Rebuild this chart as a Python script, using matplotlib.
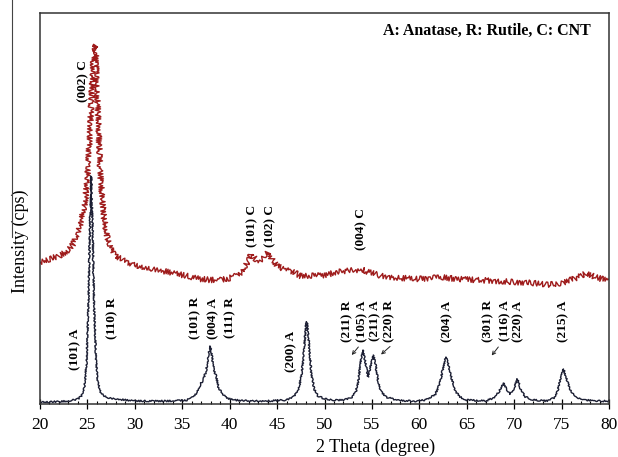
import matplotlib
matplotlib.use("Agg")
import matplotlib.pyplot as plt
from matplotlib.lines import Line2D
import numpy as np

plt.rcParams['font.family'] = ['Liberation Serif', 'DejaVu Serif']

# TiO2 pattern (black): 2 theta (deg), intensity (a.u.)
tio2_theta = [20.0, 21.0, 22.0, 23.0, 23.5, 24.0, 24.4, 24.7, 24.9, 25.1, 25.25, 25.4,
              25.55, 25.7, 25.9, 26.1, 26.4, 26.8, 27.3, 28.0, 29.0, 30.0, 32.0, 34.0,
              35.5, 36.2, 36.6, 37.0, 37.2, 37.5, 37.75, 37.95, 38.15, 38.4, 38.6, 38.8,
              39.2, 39.7, 40.5, 42.0, 44.0, 46.0, 46.8, 47.3, 47.6, 47.85, 48.05, 48.15,
              48.35, 48.6, 48.9, 49.3, 50.0, 51.0, 52.0, 52.8, 53.3, 53.6, 53.85, 54.05,
              54.3, 54.6, 54.9, 55.15, 55.4, 55.7, 56.0, 56.5, 57.5, 59.0, 60.0, 61.0,
              61.7, 62.2, 62.5, 62.8, 63.1, 63.4, 63.8, 64.3, 65.0, 67.0, 67.8, 68.4,
              68.85, 69.2, 69.6, 70.0, 70.35, 70.7, 71.2, 72.0, 73.5, 74.2, 74.6, 74.95,
              75.2, 75.5, 75.8, 76.2, 76.8, 77.5, 79.0, 80.0]
tio2_int = [2, 2, 2.5, 3, 4, 5, 8, 18, 40, 95, 170, 228,
            175, 100, 45, 22, 12, 8, 6, 5, 4, 3, 3, 3,
            4, 7, 12, 21, 24, 32, 48, 58, 46, 32, 27, 17,
            10, 6, 4, 3, 3, 4, 8, 16, 30, 55, 80, 82,
            62, 32, 15, 8, 5, 4, 4, 6, 12, 25, 45, 54,
            42, 27, 40, 49, 38, 20, 12, 7, 4, 3, 3, 5,
            10, 22, 36, 47, 38, 25, 13, 7, 4, 3, 6, 12,
            21, 15, 10, 16, 25, 14, 7, 4, 3, 6, 14, 28,
            35, 26, 17, 10, 6, 4, 3, 3]

# TiO2/CNT pattern (red), offset upward
cnt_theta = [20.0, 21.0, 22.0, 23.0, 23.5, 24.0, 24.4, 24.8, 25.1, 25.3, 25.5, 25.7,
             25.85, 26.0, 26.2, 26.4, 26.7, 27.0, 27.5, 28.0, 29.0, 30.0, 32.0, 34.0,
             35.0, 36.0, 37.0, 38.0, 39.0, 40.0, 41.0, 41.5, 41.9, 42.3, 42.7, 43.1,
             43.6, 44.1, 44.5, 45.0, 45.5, 46.5, 47.5, 48.5, 50.0, 51.0, 52.0, 53.0,
             54.0, 55.0, 56.0, 58.0, 60.0, 62.0, 64.0, 66.0, 68.0, 70.0, 72.0, 73.5,
             75.0, 76.5, 77.7, 78.5, 80.0]
cnt_int = [142, 145, 148, 154, 160, 171, 185, 205, 240, 280, 320, 355,
           359, 320, 270, 225, 190, 170, 155, 148, 143, 139, 135, 131,
           129, 127, 125, 124, 124, 126, 129, 133, 143, 150, 145, 143,
           147, 152, 144, 138, 136, 133, 128, 128, 129, 131, 133, 134,
           134, 131, 128, 126, 125, 127, 125, 124, 123, 122, 121, 119,
           121, 126, 131, 127, 123]

# peak labels: text, 2 theta, height of label centre
peak_labels = ["(002) C", "(101) C", "(102) C", "(004) C",
               "(101) A", "(110) R", "(101) R", "(004) A", "(111) R", "(200) A",
               "(211) R", "(105) A", "(211) A", "(220) R", "(204) A",
               "(301) R", "(116) A", "(220) A", "(215) A"]
peak_label_x = [24.53, 42.43, 44.33, 53.93,
                23.69, 27.67, 36.42, 38.28, 40.05, 46.54,
                52.45, 53.98, 55.34, 56.85, 62.9,
                67.3, 69.05, 70.45, 75.2]
peak_label_y = [323, 178, 178, 175,
                55, 86, 86, 86, 86, 53,
                83, 83, 83, 83, 83,
                83, 83, 83, 83]

# small arrows: (head x, head y, tail x, tail y)
arrows = [(52.87, 49, 53.57, 57), (55.96, 49.5, 56.91, 57.5), (67.63, 48.5, 68.33, 57)]

red = "#9e1b1b"
dark = "#1b1e33"

fig = plt.figure(figsize=(6.18, 4.57), dpi=100)
ax = fig.add_axes([40 / 618, 53 / 457, 569 / 618, 391 / 457])

l1, = ax.plot(cnt_theta, cnt_int, color=red, lw=1.0)
l1.set_sketch_params(scale=2.8, length=1.5, randomness=3)
l2, = ax.plot(tio2_theta, tio2_int, color=dark, lw=1.0)
l2.set_sketch_params(scale=0.8, length=1.5, randomness=3)

for txt, x, y in zip(peak_labels, peak_label_x, peak_label_y):
    ax.text(x, y, txt, rotation=90, ha="center", va="center",
            fontsize=9.6, fontweight="bold")

for hx, hy, tx, ty in arrows:
    ax.annotate("", xy=(hx, hy), xytext=(tx, ty),
                arrowprops=dict(arrowstyle="->", lw=0.7, color="#222222",
                                shrinkA=0, shrinkB=0, mutation_scale=6))

ax.text(0.968, 0.954, "A: Anatase, R: Rutile, C: CNT", transform=ax.transAxes,
        ha="right", va="center", fontsize=11.5, fontweight="bold")

ax.set_xlim(20, 80)
ax.set_ylim(0, 391)
ax.set_xticks(np.arange(20, 81, 5))
ax.set_xticks(np.arange(20, 81, 1), minor=True)
ax.set_yticks([])
ax.tick_params(axis="x", which="major", direction="inout", length=6.5, width=0.9,
               labelsize=12.5, pad=6)
ax.tick_params(axis="x", which="minor", direction="in", length=2.5, width=0.8)
for s in ax.spines.values():
    s.set_linewidth(1.1)
    s.set_color("#333333")

ax.set_xlabel("2 Theta (degree)", fontsize=13, va="center")
ax.xaxis.set_label_coords(0.589, -0.112)
ax.set_ylabel("Intensity (cps)", fontsize=13, va="center")
ax.yaxis.set_label_coords(-0.035, 0.417)

# thin stray rule at the left edge of the original scan
fig.add_artist(Line2D([12 / 618, 12 / 618], [1.0, 1 - 237 / 457],
                      transform=fig.transFigure, color="#444444", lw=0.8))

fig.savefig("out.png", dpi=100)
